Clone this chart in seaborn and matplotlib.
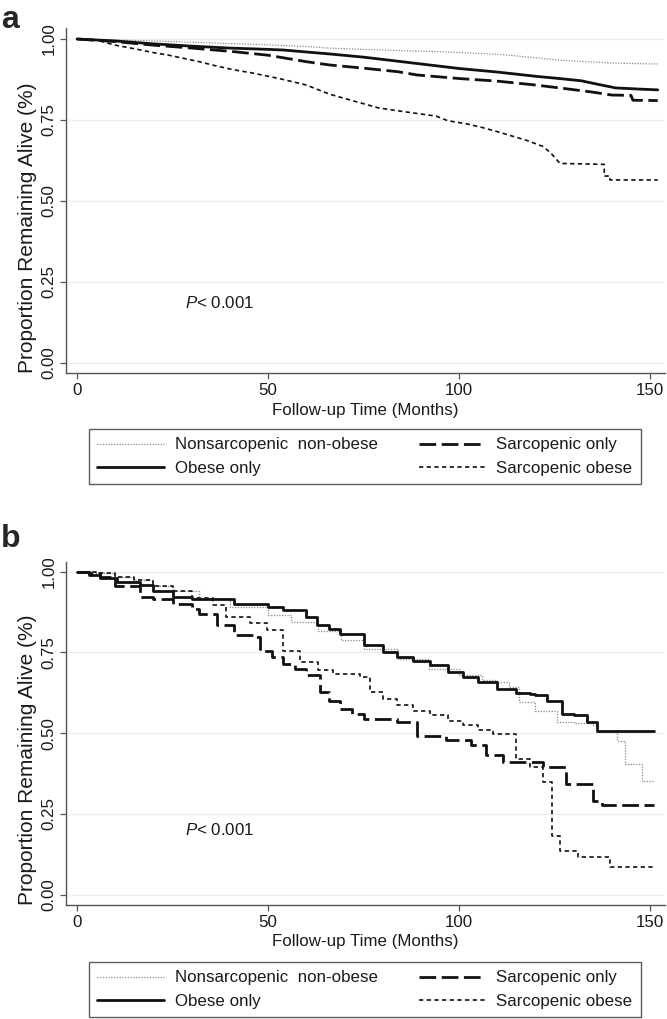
import numpy as np
import pandas as pd
import matplotlib
matplotlib.use("Agg")
import matplotlib.pyplot as plt
from matplotlib.lines import Line2D
import seaborn as sns

# ---------------- data ----------------
groups = ["Nonsarcopenic  non-obese", "Obese only", "Sarcopenic only", "Sarcopenic obese"]
x_ticks = [0, 50, 100, 150]
y_ticks = [0.00, 0.25, 0.50, 0.75, 1.00]
y_ticklabels = ["0.00", "0.25", "0.50", "0.75", "1.00"]
x_label = "Follow-up Time (Months)"
y_label = "Proportion Remaining Alive (%)"
p_text = r"$\mathit{P}$< 0.001"

# Panel a (dense KM curves, drawn point to point)
a_nn_t = [0, 10, 20, 30, 40, 50, 60, 66, 75, 85, 95, 100, 110, 113, 120, 127, 135, 142, 152]
a_nn_s = [1.0, 0.997, 0.994, 0.99, 0.986, 0.982, 0.977, 0.972, 0.968, 0.964, 0.961, 0.958,
          0.953, 0.950, 0.942, 0.934, 0.929, 0.925, 0.923]
a_ob_t = [0, 10, 20, 30, 40, 50, 54, 60, 66, 75, 85, 95, 100, 110, 120, 128, 132, 136, 141, 148, 152]
a_ob_s = [1.0, 0.994, 0.985, 0.978, 0.972, 0.968, 0.966, 0.96, 0.954, 0.944, 0.93, 0.916,
          0.909, 0.898, 0.885, 0.876, 0.871, 0.861, 0.849, 0.845, 0.843]
a_so_t = [0, 10, 20, 30, 41, 50, 60, 66, 75, 84, 89, 100, 110, 120, 127, 135, 140, 145, 145.5, 152]
a_so_s = [1.0, 0.992, 0.981, 0.972, 0.961, 0.95, 0.93, 0.92, 0.91, 0.899, 0.889, 0.878,
          0.870, 0.858, 0.848, 0.836, 0.827, 0.826, 0.811, 0.81]
a_sob_t = [0, 4, 6, 10, 15, 20, 24, 28, 32, 36, 41, 46, 50, 54, 60, 66, 72, 79, 86, 94, 97,
           102, 106, 110, 114, 118, 122, 124, 126.4, 138, 138, 139.5, 139.5, 152]
a_sob_s = [1.0, 0.998, 0.994, 0.981, 0.97, 0.958, 0.95, 0.94, 0.93, 0.918, 0.905, 0.895, 0.885,
           0.875, 0.858, 0.83, 0.81, 0.787, 0.775, 0.762, 0.748, 0.738, 0.727, 0.714, 0.70,
           0.686, 0.668, 0.648, 0.616, 0.613, 0.577, 0.577, 0.565, 0.565]

# Panel b (step curves)
b_nn_t = [0, 5, 10, 15, 20, 25, 32, 40, 50, 56, 63, 69, 75, 84, 92, 100, 106, 110, 113,
          115.7, 120, 125.6, 130, 135, 136, 141.4, 143.5, 148, 151]
b_nn_s = [1.0, 0.995, 0.985, 0.973, 0.955, 0.94, 0.916, 0.89, 0.865, 0.845, 0.815, 0.79,
          0.762, 0.73, 0.70, 0.68, 0.665, 0.658, 0.643, 0.597, 0.57, 0.534, 0.53, 0.524,
          0.503, 0.477, 0.405, 0.353, 0.353]
b_ob_t = [0, 3, 6, 10.4, 16.5, 20, 25, 30, 41, 50, 54, 60, 62.8, 66, 68.8, 75, 80, 83.7, 88,
          92.4, 97, 101, 105, 110, 115, 118.6, 120, 123, 127, 130, 133.5, 136, 151]
b_ob_s = [1.0, 0.99, 0.979, 0.969, 0.958, 0.94, 0.922, 0.915, 0.901, 0.89, 0.881, 0.86,
          0.834, 0.822, 0.808, 0.772, 0.75, 0.736, 0.722, 0.71, 0.69, 0.674, 0.66, 0.638,
          0.625, 0.622, 0.617, 0.60, 0.56, 0.555, 0.534, 0.508, 0.508]
b_so_t = [0, 3, 6, 10, 16.5, 20, 25, 30, 32, 36.6, 41, 46, 48, 51, 54, 57, 60, 63.6, 66, 68.8,
          72, 75, 83.7, 89, 96.6, 103, 107, 111.5, 122, 128, 135, 137.4, 151]
b_so_s = [1.0, 0.995, 0.985, 0.955, 0.922, 0.915, 0.90, 0.885, 0.87, 0.834, 0.803, 0.798,
          0.756, 0.735, 0.715, 0.70, 0.679, 0.627, 0.60, 0.575, 0.56, 0.545, 0.534, 0.49,
          0.478, 0.462, 0.431, 0.412, 0.395, 0.343, 0.291, 0.278, 0.278]
b_sob_t = [0, 5, 10, 15, 20, 25, 30, 35.6, 39, 45.3, 49.7, 54, 58.4, 63, 67, 74, 76.7, 80,
           83.7, 88, 92.4, 97, 101, 105, 109, 115, 118.6, 122, 124.4, 126.4, 131, 139.5, 151]
b_sob_s = [1.0, 0.995, 0.985, 0.975, 0.955, 0.94, 0.92, 0.896, 0.86, 0.84, 0.819, 0.756,
           0.72, 0.695, 0.684, 0.674, 0.627, 0.605, 0.586, 0.57, 0.555, 0.538, 0.524, 0.51,
           0.498, 0.421, 0.395, 0.348, 0.183, 0.136, 0.116, 0.085, 0.085]

panel_a = [(a_nn_t, a_nn_s), (a_ob_t, a_ob_s), (a_so_t, a_so_s), (a_sob_t, a_sob_s)]
panel_b = [(b_nn_t, b_nn_s), (b_ob_t, b_ob_s), (b_so_t, b_so_s), (b_sob_t, b_sob_s)]

# ---------------- style ----------------
sns.set_theme(style="white")
plt.rcParams["font.family"] = ["Liberation Sans", "DejaVu Sans"]
plt.rcParams["mathtext.fontset"] = "custom"
plt.rcParams["mathtext.rm"] = "Liberation Sans"
plt.rcParams["mathtext.it"] = "Liberation Sans:italic"

FS = 12.2
YL_FS = 15
line_styles = [
    dict(color="#8a8a8a", lw=0.9, ls=(0, (1, 1.2))),
    dict(color="#111111", lw=2.0, ls="-"),
    dict(color="#111111", lw=2.0, ls=(0, (6, 2))),
    dict(color="#111111", lw=1.2, ls=(0, (2.6, 2.0))),
]
spine_col = "#555555"
txt_col = "#1a1a1a"

fig = plt.figure(figsize=(6.67, 10.19), dpi=100)
W, H = 667, 1019
ax_a = fig.add_axes([66 / W, 1 - 373 / H, (665 - 66) / W, (373 - 28) / H])
ax_b = fig.add_axes([66 / W, 1 - 905 / H, (665 - 66) / W, (905 - 561.7) / H])


def draw_panel(ax, panel, ylim, p_y, xlab_y, drawstyle):
    for name, (t, s), st in zip(groups, panel, line_styles):
        df = pd.DataFrame({"time": t, "surv": s})
        sns.lineplot(data=df, x="time", y="surv", ax=ax, estimator=None, sort=False,
                     color=st["color"], lw=st["lw"], linestyle=st["ls"],
                     drawstyle=drawstyle, legend=False)
    ax.set_xlim(-2.9, 153.9)
    ax.set_ylim(*ylim)
    ax.set_xticks(x_ticks)
    ax.set_xticklabels([str(v) for v in x_ticks], fontsize=FS)
    ax.set_yticks(y_ticks)
    ax.set_yticklabels(y_ticklabels, fontsize=FS, rotation=90, va="center")
    ax.tick_params(axis="both", which="both", bottom=True, left=True, length=4,
                   width=0.9, color=spine_col, labelcolor=txt_col)
    ax.tick_params(axis="x", pad=3)
    ax.tick_params(axis="y", pad=3)
    ax.yaxis.grid(True, color="#eeeeee", lw=1.0)
    ax.xaxis.grid(False)
    ax.set_axisbelow(True)
    for side in ["top", "right"]:
        ax.spines[side].set_visible(False)
    for side in ["left", "bottom"]:
        ax.spines[side].set_color(spine_col)
        ax.spines[side].set_linewidth(1.0)
    ax.set_xlabel(x_label, fontsize=FS, color=txt_col)
    ax.set_ylabel(y_label, fontsize=YL_FS, color=txt_col)
    ax.xaxis.set_label_coords(0.5, xlab_y)
    ax.yaxis.set_label_coords(-0.0476, 0.422)
    ax.text(28.3, p_y, p_text, fontsize=FS, va="center", ha="left", color=txt_col)


draw_panel(ax_a, panel_a, (-0.031, 1.034), 0.185, -0.087, "default")
draw_panel(ax_b, panel_b, (-0.032, 1.031), 0.20, -0.085, "steps-post")

# legends
handles = [Line2D([0], [0], color=st["color"], lw=st["lw"], linestyle=st["ls"])
           for st in line_styles]
for top_px in (429, 962):
    leg = fig.legend(handles, groups, ncol=2, loc="upper left",
                     bbox_to_anchor=(89 / W, 1 - top_px / H),
                     fontsize=FS, frameon=True, fancybox=False,
                     edgecolor="#333333", handlelength=3.9, handletextpad=0.65,
                     labelspacing=0.5, borderpad=0.5, columnspacing=2.45,
                     borderaxespad=0)
    leg.get_frame().set_linewidth(1.0)
    for txt in leg.get_texts():
        txt.set_color(txt_col)

# panel letters
fig.text(0.002, 1 - 28 / H, "a", fontsize=23, fontweight="bold", va="baseline", ha="left")
fig.text(0.002, 1 - 547 / H, "b", fontsize=23, fontweight="bold", va="baseline", ha="left")

fig.savefig("out.png", dpi=100)
